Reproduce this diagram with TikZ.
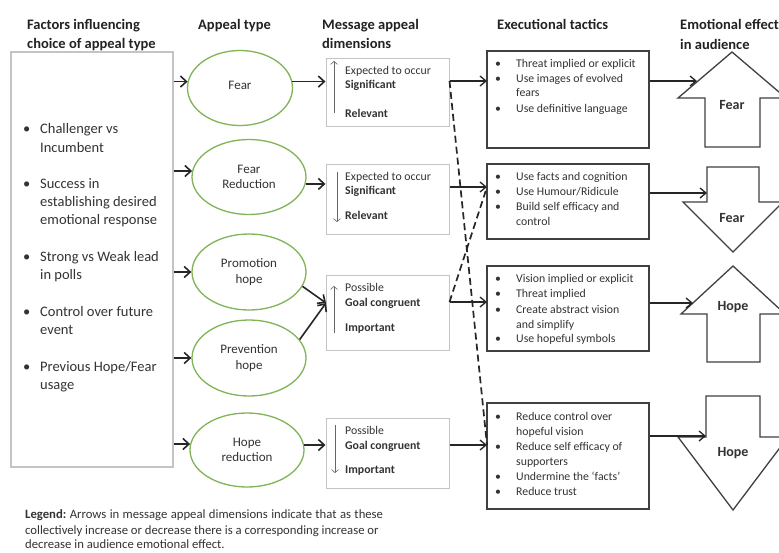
\documentclass[tikz,border=0pt]{standalone}
\usepackage{fontspec}
\setmainfont{Carlito}
\usetikzlibrary{arrows.meta,shapes.geometric}
\definecolor{txt}{HTML}{333333}
\definecolor{hdr}{HTML}{222222}
\definecolor{grn}{HTML}{80B457}
\definecolor{lgray}{HTML}{C4C4C4}
\definecolor{dgray}{HTML}{404040}
\definecolor{agray}{HTML}{666666}
\newcommand{\lgsp}{\hspace{3.4pt}}
\begin{document}
\begin{tikzpicture}[x=1pt,y=-1pt,
  hd/.style={anchor=base west, inner sep=0, font=\fontsize{14.5}{17}\selectfont\bfseries, text=hdr},
  lft/.style={anchor=base west, inner sep=0, font=\fontsize{14.5}{18}\selectfont, text=txt},
  lgd/.style={anchor=base west, inner sep=0, font=\fontsize{12.7}{17}\selectfont, text=txt},
  sml/.style={anchor=base west, inner sep=0, font=\fontsize{11.8}{14}\selectfont, text=txt},
  smlb/.style={sml, font=\fontsize{11.8}{14}\selectfont\bfseries},
  ell/.style={ellipse, draw=grn, line width=1.3pt, inner sep=0, align=center,
     font=\fontsize{13}{15.5}\selectfont, text=txt},
  mbox/.style={draw=lgray, line width=1pt, minimum width=123pt, inner sep=0},
  tbox/.style={draw=dgray, line width=1.2pt, minimum width=162pt, inner sep=0},
  blk/.style={draw=dgray, line width=1.3pt, fill=white, line join=miter},
  blkt/.style={inner sep=0, font=\fontsize{14}{16}\selectfont\bfseries, text=txt},
  arr/.style={draw=black!85, line width=1.6pt, -{Straight Barb[length=6pt,width=11pt]}},
  arr2/.style={draw=black!85, line width=1.3pt, -{Straight Barb[length=6pt,width=10pt]}},
  dsh/.style={draw=black!85, line width=1.7pt, dash pattern=on 7pt off 4pt},
  sarr/.style={draw=agray, line width=0.6pt, -{Straight Barb[length=3pt,width=7pt]}}
]
\useasboundingbox[fill=white] (0,0) rectangle (779,552);

% headers
\node[hd] (h1a) at (27,29) {Factors influencing};
\node[hd] (h1b) at (27,48) {choice of appeal type};
\node[hd] (h2) at (198,29) {Appeal type};
\node[hd] (h3a) at (322,29) {Message appeal};
\node[hd] (h3b) at (322,48) {dimensions};
\node[hd] (h4) at (497,29) {Executional tactics};
\node[hd] (h5a) at (680,29) {Emotional effect};
\node[hd] (h5b) at (680,49) {in audience};

% left box
\node[draw=lgray, line width=1.2pt, minimum width=162pt, minimum height=415pt, inner sep=0] (lbox) at (92,259.5) {};
\foreach \t/\y [count=\i] in {Challenger vs/133, Incumbent/152, Success in/188,
  establishing desired/206, emotional response/224, Strong vs Weak lead/261,
  in polls/279, Control over future/316, event/334, {Previous Hope/Fear}/371, usage/389}
  \node[lft] (fl\i) at (40,\y) {\t};
\foreach \y [count=\i] in {133,188,261,316,371}
  \node[lft] (fb\i) at (23,\y) {•};

% ellipses
\node[ell, minimum width=105pt, minimum height=75pt] (fear) at (240,88) {\raisebox{5pt}{Fear}};
\node[ell, minimum width=114pt, minimum height=75pt] (fr) at (249,177) {Fear\\Reduction};
\node[ell, minimum width=114pt, minimum height=76pt] (ph) at (249,272) {Promotion\\hope};
\node[ell, minimum width=114pt, minimum height=76pt] (pv) at (249,358) {Prevention\\hope};
\node[ell, minimum width=114pt, minimum height=74pt] (hr) at (247,450) {Hope\\reduction};

% left box -> ellipses
\draw[arr] (lbox.east |- fear.173) -- (fear.173);
\draw[arr] (lbox.east |- fr.174) -- (fr.174);
\draw[arr] (lbox.east |- ph.west) -- (ph.west);
\draw[arr] (lbox.east |- pv.west) -- (pv.west);
\draw[arr] (lbox.east |- hr.174) -- (hr.174);

% message boxes
\node[mbox, minimum height=68pt] (m1) at (387.5,92) {};
\node[mbox, minimum height=70pt] (m2) at (387.5,199) {};
\node[mbox, minimum height=75pt] (m3) at (387.5,312.5) {};
\node[mbox, minimum height=70pt] (m4) at (387.5,453) {};

\node[sml]  (m1a) at (345,74.5) {Expected to occur};
\node[smlb] (m1b) at (345,88.5) {Significant};
\node[smlb] (m1c) at (345,117.5) {Relevant};
\node[sml]  (m2a) at (345,180.5) {Expected to occur};
\node[smlb] (m2b) at (345,194.5) {Significant};
\node[smlb] (m2c) at (345,219.5) {Relevant};
\node[sml]  (m3a) at (345,291.5) {Possible};
\node[smlb] (m3b) at (345,306.5) {Goal congruent};
\node[smlb] (m3c) at (345,331.5) {Important};
\node[sml]  (m4a) at (345,434.5) {Possible};
\node[smlb] (m4b) at (345,449.5) {Goal congruent};
\node[smlb] (m4c) at (345,473.5) {Important};

\draw[sarr] (334,113) -- (334,61);
\draw[sarr] (337,172) -- (337,222);
\draw[sarr] (334,333) -- (334,286);
\draw[sarr] (335,425) -- (335,473);

% ellipses -> message boxes
\coordinate (m3in) at (326,303);
\draw[arr] (fear.7) -- (m1.west |- fear.7);
\draw[arr] (fr.-7) -- (m2.west |- fr.-7);
\draw[arr] (ph.-15) -- (m3in);
\draw[arr] (pv.20) -- (m3in);
\draw[arr] (hr.5) -- (m4.west |- hr.5);

% tactics boxes
\node[tbox, minimum height=97pt] (t1) at (568,99.5) {};
\node[tbox, minimum height=75pt] (t2) at (568,201.5) {};
\node[tbox, minimum height=85pt] (t3) at (568,308.5) {};
\node[tbox, minimum height=106pt] (t4) at (568,456) {};

\foreach \t/\y [count=\i] in {Threat implied or explicit/67.5, Use images of evolved/82.5,
  fears/96.5, Use definitive language/112.5,
  Use facts and cognition/180.5, {Use Humour/Ridicule}/195.5, Build self efficacy and/210.5, control/225.5,
  Vision implied or explicit/282.5, Threat implied/297.5, Create abstract vision/313.5,
  and simplify/328.5, Use hopeful symbols/342.5,
  Reduce control over/420.5, hopeful vision/435.5, Reduce self efficacy of/450.5,
  supporters/465.5, Undermine the ‘facts’/480.5, Reduce trust/495.5}
  \node[sml] (tl\i) at (516,\y) {\t};
\foreach \y [count=\i] in {67.5,82.5,112.5,180.5,195.5,210.5,282.5,297.5,313.5,342.5,420.5,450.5,480.5,495.5}
  \node[sml] (tb\i) at (495,\y) {•};

% message boxes -> tactics
\coordinate (t1in) at (487,81);
\coordinate (t2in) at (487,187);
\coordinate (t3in) at (487,302);
\coordinate (t4in) at (487,445);
\coordinate (m1out) at (m1.east |- t1in);
\coordinate (m3out) at (m3.east |- t3in);
\draw[dsh] (m1out) -- (t4in);
\draw[dsh] (m3out) -- (t2in);
\draw[arr2] (m1out) -- (t1in);
\draw[arr2] (m2.east |- t2in) -- (t2in);
\draw[arr2] (m3out) -- (t3in);
\draw[arr2] (m4.east |- t4in) -- (t4in);

% block arrows
\draw[blk] (732,52) -- (786,98) -- (760,98) -- (760,147) -- (705,147) -- (705,98) -- (678,98) -- cycle;
\draw[blk] (707,167) -- (759,167) -- (759,202) -- (783,202) -- (733,252) -- (683,202) -- (707,202) -- cycle;
\draw[blk] (733,266) -- (785,314) -- (760,314) -- (760,362) -- (707,362) -- (707,314) -- (681,314) -- cycle;
\draw[blk] (706,396) -- (760,396) -- (760,437) -- (788,437) -- (733,510) -- (678,437) -- (706,437) -- cycle;
\node[blkt] (e1) at (732,105) {Fear};
\node[blkt] (e2) at (732,218) {Fear};
\node[blkt] (e3) at (733,307) {Hope};
\node[blkt] (e4) at (733,453) {Hope};

\coordinate (e1in) at (697,81);
\coordinate (e2in) at (707,193);
\coordinate (e3in) at (693,303);
\coordinate (e4in) at (706,436);
\draw[arr2] (t1.east |- e1in) -- (e1in);
\draw[arr2] (t2.east |- e2in) -- (e2in);
\draw[arr2] (t3.east |- e3in) -- (e3in);
\draw[arr2] (t4.east |- e4in) -- (e4in);

% legend
\node[lgd] (lg1) at (25,518) {\textbf{Legend:}\lgsp Arrows\lgsp in\lgsp message\lgsp appeal\lgsp dimensions\lgsp indicate\lgsp that\lgsp as\lgsp these};
\node[lgd] (lg2) at (25,534.5) {collectively increase or decrease there is a corresponding increase or};
\node[lgd] (lg3) at (25,548.5) {decrease in audience emotional effect.};
\end{tikzpicture}
\end{document}
